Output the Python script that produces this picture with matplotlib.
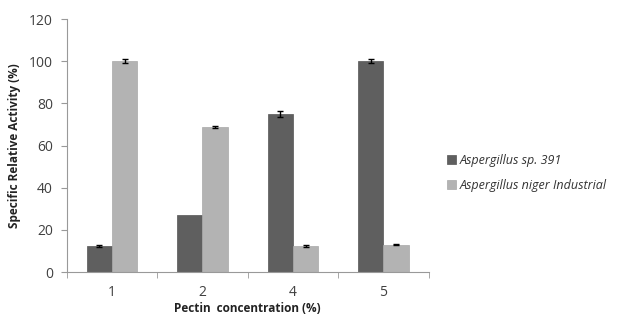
import numpy as np
import matplotlib
matplotlib.use('Agg')
import matplotlib.pyplot as plt
from matplotlib.ticker import FixedLocator

plt.rcParams['font.family'] = ['Open Sans', 'DejaVu Sans']

categories = ['1', '2', '4', '5']
sp391 = [12.5, 27, 75, 100]
sp391_err = [0.4, np.nan, 1.4, 1.0]
niger = [100, 68.7, 12.2, 13]
niger_err = [1.0, 0.4, 0.4, 0.4]

fig = plt.figure(figsize=(6.24, 3.2), dpi=100)
ax = fig.add_axes([0.107, 0.15, 0.58, 0.79])

x = np.arange(len(categories))
w = 0.28
ax.bar(x - w/2, sp391, w, color='#5f5f5f', edgecolor='#555555', linewidth=0.5,
       label='Aspergillus sp. 391')
ax.bar(x + w/2, niger, w, color='#b3b3b3', edgecolor='#a8a8a8', linewidth=0.5,
       label='Aspergillus niger Industrial')
ax.errorbar(x - w/2, sp391, yerr=sp391_err, fmt='none', ecolor='black',
            elinewidth=1, capsize=2.5, capthick=1)
ax.errorbar(x + w/2, niger, yerr=niger_err, fmt='none', ecolor='black',
            elinewidth=1, capsize=2.5, capthick=1)

ax.set_xlim(-0.5, 3.5)
ax.set_ylim(0, 120)
ax.set_yticks(range(0, 121, 20))
ax.set_xticks(x)
ax.set_xticklabels(categories)
ax.xaxis.set_minor_locator(FixedLocator([-0.5, 0.5, 1.5, 2.5, 3.5]))
ax.tick_params(axis='x', which='major', length=0, pad=9, labelsize=10, labelcolor='#404040')
ax.tick_params(axis='x', which='minor', length=4, color='#999999', direction='out')
ax.tick_params(axis='y', length=4, color='#999999', labelsize=10, labelcolor='#404040', pad=6)

for s in ['top', 'right']:
    ax.spines[s].set_visible(False)
for s in ['left', 'bottom']:
    ax.spines[s].set_color('#999999')
    ax.spines[s].set_linewidth(0.8)

ax.set_ylabel('Specific Relative Activity (%)', fontsize=8.5, fontweight='bold', color='#222222', labelpad=6)
ax.set_xlabel('Pectin  concentration (%)', fontsize=8.5, fontweight='bold', color='#222222', labelpad=2)

leg = fig.legend(loc='center left', bbox_to_anchor=(0.713, 0.46), frameon=False,
                 handlelength=0.7, handleheight=0.7, handletextpad=0.3, labelspacing=1.0,
                 borderaxespad=0, borderpad=0.2,
                 prop=dict(size=9, style='italic'))
for t in leg.get_texts():
    t.set_color('#333333')

fig.savefig('out.png', dpi=100)
